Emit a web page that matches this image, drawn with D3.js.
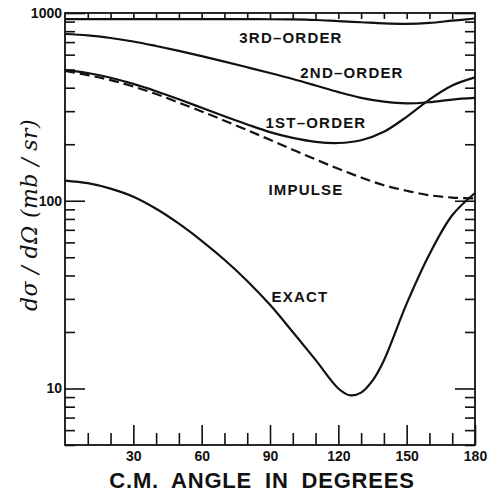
<!DOCTYPE html>
<html>
<head>
<meta charset="utf-8">
<script src="https://cdn.jsdelivr.net/npm/d3@7"></script>
<style>
  html, body { margin: 0; padding: 0; background: #fff; }
  svg { display: block; }
  .tick text { font-family: "Liberation Sans", Arial, sans-serif; font-weight: bold; }
</style>
</head>
<body>
<div id="chart"></div>
<script>
'use strict';

const angles = [0, 10, 20, 30, 40, 50, 60, 70, 80, 90, 100, 110, 120, 130, 140, 150, 160, 170, 180];
const exactAngles = [0, 10, 20, 30, 40, 50, 60, 70, 80, 90, 100, 110, 120, 125, 130, 135, 140, 150, 160, 170, 180];

// dσ/dΩ in mb/sr
const thirdOrder = [928, 928, 928, 928, 928, 928, 928, 928, 927, 926, 924, 918, 905, 893, 880, 875, 885, 910, 935];
const secondOrder = [773, 760, 736, 705, 667, 628, 589, 551, 514, 479, 445, 411, 379, 353, 337, 330, 335, 346, 353];
const firstOrder = [496, 479, 452, 419, 383, 347, 313, 282, 255, 232, 216, 206, 203, 210, 233, 280, 346, 411, 454];
const impulse = [491, 467, 439, 406, 370, 333, 299, 267, 238, 211, 187, 166, 148, 133, 121, 113, 107, 104, 103];
const exact = [128, 124, 116, 105, 90.6, 75.5, 61.2, 48.5, 37.4, 27.9, 20.0, 14.2, 10.0, 9.2, 9.5, 11.0, 14.1, 28.3, 51.9, 83.7, 110];

const xMajorTicks = [30, 60, 90, 120, 150, 180];
const xMinorTicks = [10, 20, 40, 50, 70, 80, 100, 110, 130, 140, 160, 170];
const yMajorTicks = [10, 100, 1000];
const yMinorTicks = [5, 6, 7, 8, 9, 20, 30, 40, 50, 60, 70, 80, 90, 200, 300, 400, 500, 600, 700, 800, 900];

const curveLabels = ['3RD\u2013ORDER', '2ND\u2013ORDER', '1ST\u2013ORDER', 'IMPULSE', 'EXACT'];
const curveLabelPos = [[291, 43], [352, 78], [316, 128], [306, 195], [300, 302]];

const W = 489, H = 495;
const margin = { top: 13, right: 14, bottom: 50, left: 65 };
const width = W - margin.left - margin.right;
const height = H - margin.top - margin.bottom;

const svg = d3.select('#chart').append('svg')
  .attr('width', W)
  .attr('height', H);

const g = svg.append('g')
  .attr('transform', `translate(${margin.left}, ${margin.top})`);

const x = d3.scaleLinear().domain([0, 180]).range([0, width]);
const y = d3.scaleLog().domain([5, 1000]).range([height, 0]);

function styleAxis(sel) {
  sel.select('.domain').remove();
  sel.selectAll('.tick line').attr('stroke', '#111').attr('stroke-width', 1.6);
  sel.selectAll('.tick text').attr('fill', '#111');
}

// bottom axis: ticks point up into plot
g.append('g')
  .attr('transform', `translate(0, ${height})`)
  .call(d3.axisBottom(x).tickValues(xMinorTicks).tickSize(-12).tickFormat(''))
  .call(styleAxis);
g.append('g')
  .attr('transform', `translate(0, ${height})`)
  .call(d3.axisBottom(x).tickValues(xMajorTicks).tickSize(-20).tickPadding(6).tickFormat(d3.format('d')))
  .call(styleAxis)
  .call(s => s.selectAll('.tick text').attr('font-size', 14));

// top axis: short ticks every 10 degrees pointing down
g.append('g')
  .call(d3.axisTop(x).tickValues(xMinorTicks.concat(xMajorTicks.slice(0, 5))).tickSize(-6).tickFormat(''))
  .call(styleAxis);

// left axis
g.append('g')
  .call(d3.axisLeft(y).tickValues(yMinorTicks).tickSize(-10).tickFormat(''))
  .call(styleAxis);
g.append('g')
  .call(d3.axisLeft(y).tickValues(yMajorTicks).tickSize(-20).tickPadding(3).tickFormat(d3.format('d')))
  .call(styleAxis)
  .call(s => s.selectAll('.tick text').attr('font-size', 14));

// right axis
g.append('g')
  .attr('transform', `translate(${width}, 0)`)
  .call(d3.axisRight(y).tickValues(yMinorTicks).tickSize(-10).tickFormat(''))
  .call(styleAxis);
g.append('g')
  .attr('transform', `translate(${width}, 0)`)
  .call(d3.axisRight(y).tickValues(yMajorTicks).tickSize(-20).tickFormat(''))
  .call(styleAxis);

// frame
g.append('rect')
  .attr('x', 0).attr('y', 0)
  .attr('width', width).attr('height', height)
  .attr('fill', 'none')
  .attr('stroke', '#111')
  .attr('stroke-width', 1.8);

const line = d3.line()
  .x(d => x(d[0]))
  .y(d => y(d[1]))
  .curve(d3.curveCatmullRom.alpha(0.5));

const series = [
  { xs: angles, ys: thirdOrder, dash: null },
  { xs: angles, ys: secondOrder, dash: null },
  { xs: angles, ys: firstOrder, dash: null },
  { xs: angles, ys: impulse, dash: '10,5' },
  { xs: exactAngles, ys: exact, dash: null },
];

series.forEach(s => {
  g.append('path')
    .datum(s.xs.map((a, i) => [a, s.ys[i]]))
    .attr('fill', 'none')
    .attr('stroke', '#111')
    .attr('stroke-width', 2.2)
    .attr('stroke-dasharray', s.dash)
    .attr('d', line);
});

// curve labels
svg.selectAll('text.clabel')
  .data(curveLabels)
  .join('text')
  .attr('class', 'clabel')
  .attr('x', (d, i) => curveLabelPos[i][0])
  .attr('y', (d, i) => curveLabelPos[i][1])
  .attr('text-anchor', 'middle')
  .attr('font-family', '"Liberation Sans", Arial, sans-serif')
  .attr('font-weight', 'bold')
  .attr('font-size', 15)
  .attr('letter-spacing', 1.2)
  .attr('fill', '#111')
  .text(d => d);

// axis titles
svg.append('text')
  .attr('x', 262)
  .attr('y', 488)
  .attr('text-anchor', 'middle')
  .attr('font-family', '"Liberation Sans", Arial, sans-serif')
  .attr('font-weight', 'bold')
  .attr('font-size', 22)
  .attr('letter-spacing', 0.8)
  .attr('word-spacing', 6)
  .attr('fill', '#111')
  .text('C.M. ANGLE IN DEGREES');

svg.append('text')
  .attr('transform', 'translate(37, 215) rotate(-90)')
  .attr('text-anchor', 'middle')
  .attr('font-family', '"DejaVu Serif", "Liberation Serif", serif')
  .attr('font-style', 'italic')
  .attr('font-size', 22)
  .attr('letter-spacing', 0.4)
  .attr('fill', '#111')
  .text('d\u03c3 / d\u03a9 (mb / sr)');
</script>
</body>
</html>
